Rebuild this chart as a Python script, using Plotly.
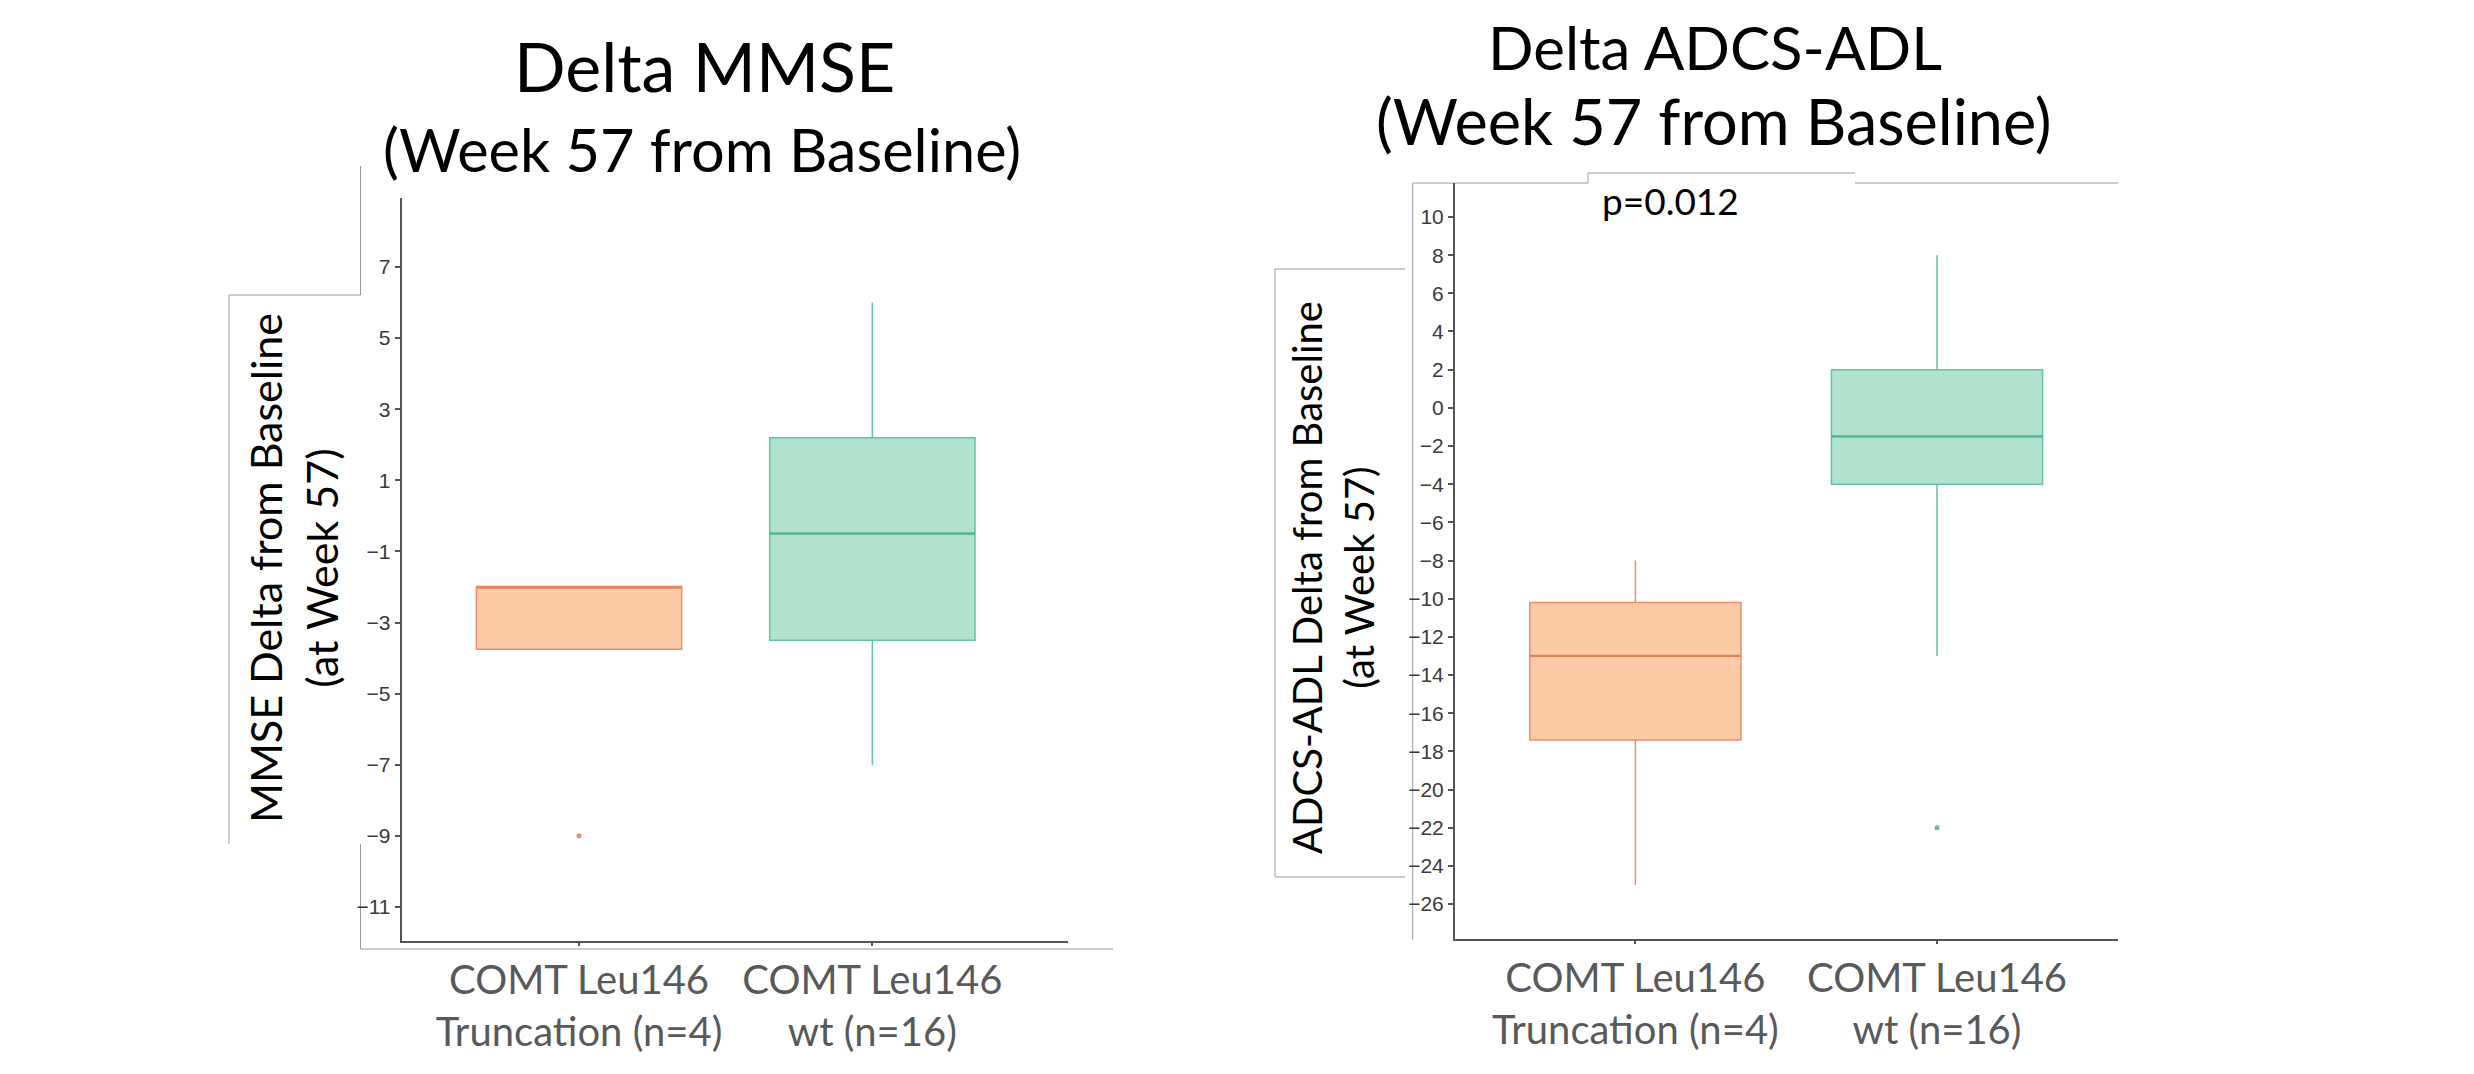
import plotly.graph_objects as go

# ---------------- data ----------------
groups = ["COMT Leu146<br>Truncation (n=4)", "COMT Leu146<br>wt (n=16)"]
group_pos = [0, 1]

mmse_q1 = [-3.75, -3.5]
mmse_median = [-2.0, -0.5]
mmse_q3 = [-2.0, 2.2]
mmse_lowerfence = [-3.75, -7.0]
mmse_upperfence = [-2.0, 6.0]
mmse_outliers = [[-9.0], []]

adl_q1 = [-17.4, -4.0]
adl_median = [-13.0, -1.5]
adl_q3 = [-10.2, 2.0]
adl_lowerfence = [-25.0, -13.0]
adl_upperfence = [-8.0, 8.0]
adl_outliers = [[], [-22.0]]

mmse_ticks = [7, 5, 3, 1, -1, -3, -5, -7, -9, -11]
adl_ticks = [10, 8, 6, 4, 2, 0, -2, -4, -6, -8, -10, -12, -14, -16, -18, -20, -22, -24, -26]

line_colors = ["rgb(240,140,104)", "rgb(100,193,164)"]
median_colors = ["rgb(232,128,88)", "rgb(80,180,145)"]
fill_colors = ["rgb(251,202,167)", "rgb(176,226,206)"]
BOX_W = 0.7

W, H = 2474, 1074
def X(px):
    return px / W
def Y(py):
    return 1 - py / H

fig = go.Figure()

def add_panel(xa, ya, q1, med, q3, lf, uf, outs):
    for i in range(len(groups)):
        fig.add_trace(go.Box(
            x=[group_pos[i]], q1=[q1[i]], median=[med[i]], q3=[q3[i]],
            lowerfence=[lf[i]], upperfence=[uf[i]],
            boxpoints=False, width=BOX_W, whiskerwidth=0,
            fillcolor=fill_colors[i], line=dict(color=line_colors[i], width=1.5),
            xaxis=xa, yaxis=ya, showlegend=False, hoverinfo="skip"))
        # emphasised median line
        fig.add_trace(go.Scatter(
            x=[group_pos[i] - BOX_W / 2, group_pos[i] + BOX_W / 2], y=[med[i], med[i]],
            mode="lines", line=dict(color=median_colors[i], width=2.2),
            xaxis=xa, yaxis=ya, showlegend=False, hoverinfo="skip"))
        if outs[i]:
            fig.add_trace(go.Scatter(
                x=[group_pos[i]] * len(outs[i]), y=outs[i], mode="markers",
                marker=dict(color=line_colors[i], size=5),
                xaxis=xa, yaxis=ya, showlegend=False, hoverinfo="skip"))

add_panel("x", "y", mmse_q1, mmse_median, mmse_q3, mmse_lowerfence, mmse_upperfence, mmse_outliers)
add_panel("x2", "y2", adl_q1, adl_median, adl_q3, adl_lowerfence, adl_upperfence, adl_outliers)

axis_common = dict(showgrid=False, zeroline=False, showline=True, linecolor="#555555",
                   linewidth=2, ticks="outside", tickcolor="#555555", tickwidth=1.5)
xfont = dict(family="Lato, sans-serif", size=40, color="#595959")
yfont = dict(family="Liberation Sans, Arial, sans-serif", size=21, color="#3a3a3a")

fig.update_layout(
    width=W, height=H, autosize=False,
    margin=dict(l=0, r=0, t=0, b=0),
    paper_bgcolor="white", plot_bgcolor="white",
    xaxis=dict(domain=[X(393.7), X(1060)], range=[-0.6045, 1.667], ticklen=3,
               tickvals=group_pos, ticktext=groups, tickfont=xfont, anchor="y", **axis_common),
    yaxis=dict(domain=[Y(932.7), Y(190)], range=[-11.95, 8.94], ticklen=5,
               tickvals=mmse_ticks, tickfont=yfont, anchor="x", **axis_common),
    xaxis2=dict(domain=[X(1447), X(2110)], range=[-0.598, 1.6], ticklen=3,
                tickvals=group_pos, ticktext=groups, tickfont=xfont, anchor="y2", **axis_common),
    yaxis2=dict(domain=[Y(931), Y(175)], range=[-27.83, 11.78], ticklen=5,
                tickvals=adl_ticks, tickfont=yfont, anchor="x2", **axis_common),
)

title_font = "Lato, sans-serif"
annots = [
    dict(text="Delta MMSE", x=X(696), y=Y(57), size=68),
    dict(text="(Week 57 from Baseline)", x=X(694), y=Y(141), size=59.5),
    dict(text="Delta ADCS-ADL", x=X(1707), y=Y(39), size=60),
    dict(text="(Week 57 from Baseline)", x=X(1706), y=Y(112), size=63),
    dict(text="p=0.012", x=X(1662), y=Y(192), size=37),
]
for a in annots:
    fig.add_annotation(text=a["text"], x=a["x"], y=a["y"], xref="paper", yref="paper",
                       showarrow=False, xanchor="center", yanchor="middle",
                       font=dict(family=title_font, size=a["size"], color="black"))

fig.add_annotation(text="MMSE Delta from Baseline<br>(at Week 57)", x=X(285), y=Y(560),
                   xref="paper", yref="paper", showarrow=False, textangle=-90,
                   xanchor="center", yanchor="middle",
                   font=dict(family=title_font, size=43, color="black"))
fig.add_annotation(text="ADCS-ADL Delta from Baseline<br>(at Week 57)", x=X(1325), y=Y(570),
                   xref="paper", yref="paper", showarrow=False, textangle=-90,
                   xanchor="center", yanchor="middle",
                   font=dict(family=title_font, size=40, color="black"))

# faint frame lines from the composited figure
frame = [
    (352.5, 158, 352.5, 287), (221, 287, 352.5, 287), (221, 287, 221, 836),
    (352.5, 836, 352.5, 941), (352.5, 941, 1105, 941),
    (1404.7, 175, 1404.7, 932), (1404.7, 175, 1580, 175), (1580, 165, 1580, 175),
    (1580, 165, 1847, 165), (1847, 175, 2110, 175),
    (1267, 261, 1397, 261), (1267, 261, 1267, 869), (1267, 869, 1397, 869),
]
for x0, y0, x1, y1 in frame:
    fig.add_shape(type="line", xref="paper", yref="paper",
                  x0=X(x0), y0=Y(y0), x1=X(x1), y1=Y(y1),
                  line=dict(color="#9a9a9a", width=1), layer="below")

fig.write_html("out.html")
